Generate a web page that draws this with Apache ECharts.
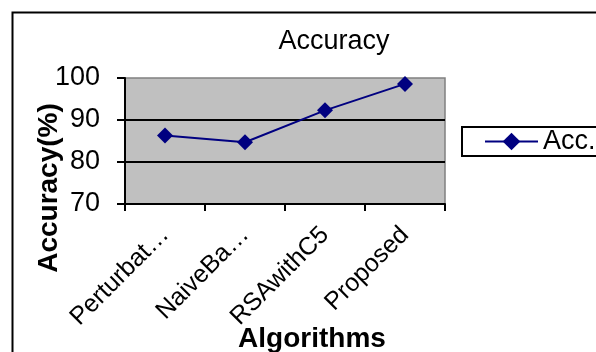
<!DOCTYPE html>
<html>
<head>
<meta charset="utf-8">
<script src="https://cdn.jsdelivr.net/npm/echarts@6/dist/echarts.min.js"></script>
<style>html,body{margin:0;padding:0;background:#fff;}#c{width:596px;height:352px;}</style>
</head>
<body>
<div id="c"></div>
<script>
const categories = ['Perturbat\u2026', 'NaiveBa\u2026', 'RSAwithC5', 'Proposed'];
const accValues = [86.3, 84.7, 92.3, 98.6];
const seriesName = 'Acc.';
const titleText = 'Accuracy';
const xAxisName = 'Algorithms';
const yAxisName = 'Accuracy(%)';

const FONT = '"Liberation Sans", Arial, sans-serif';
const chart = echarts.init(document.getElementById('c'), null, {renderer: 'canvas'});
chart.setOption({
  animation: false,
  backgroundColor: '#ffffff',
  title: {
    text: titleText, left: 329, top: 23, textAlign: 'center',
    textStyle: {fontFamily: FONT, fontSize: 27, fontWeight: 'normal', color: '#000'}
  },
  graphic: [{
    type: 'rect', left: 10, top: 10, z: 100,
    shape: {x: 0, y: 0, width: 620, height: 380},
    style: {fill: 'none', stroke: '#000', lineWidth: 2}
  }],
  legend: {
    left: 462, top: 127,
    data: [seriesName],
    itemWidth: 53, itemHeight: 22, itemGap: 10,
    borderColor: '#000', borderWidth: 2,
    padding: [1, 80, 1, 22],
    textStyle: {fontFamily: FONT, fontSize: 27, color: '#000', lineHeight: 25}
  },
  grid: {
    left: 125, right: 151, top: 78, bottom: 148,
    outerBoundsMode: 'none', containLabel: false,
    show: true, backgroundColor: '#c0c0c0', borderColor: '#808080', borderWidth: 1.5
  },
  xAxis: {
    type: 'category', data: categories, boundaryGap: true,
    name: xAxisName, nameLocation: 'middle', nameGap: 121, nameMoveOverlap: false,
    nameTextStyle: {fontFamily: FONT, fontSize: 28, fontWeight: 'bold', color: '#000', padding: [0, 0, 0, 54]},
    axisLine: {lineStyle: {color: '#000', width: 2}},
    axisTick: {show: true, length: 7, lineStyle: {color: '#000', width: 2}},
    axisLabel: {rotate: 45, margin: 27, fontFamily: FONT, fontSize: 25, color: '#000', interval: 0},
    splitLine: {show: false}
  },
  yAxis: {
    type: 'value', min: 70, max: 100, interval: 10,
    name: yAxisName, nameLocation: 'middle', nameGap: 62, nameRotate: 90, nameMoveOverlap: false,
    nameTextStyle: {fontFamily: FONT, fontSize: 28, fontWeight: 'bold', color: '#000', padding: [0, 94, 0, 0]},
    axisLine: {show: true, lineStyle: {color: '#000', width: 2}},
    axisTick: {show: true, length: 8, lineStyle: {color: '#000', width: 2}},
    axisLabel: {margin: 25, fontFamily: FONT, fontSize: 27, color: '#000'},
    splitLine: {show: true, showMinLine: false, showMaxLine: false, lineStyle: {color: '#000', width: 2}}
  },
  series: [{
    name: seriesName, type: 'line', data: accValues,
    symbol: 'diamond', symbolSize: 16,
    lineStyle: {color: '#000080', width: 2},
    itemStyle: {color: '#000080'}
  }]
});
</script>
</body>
</html>
